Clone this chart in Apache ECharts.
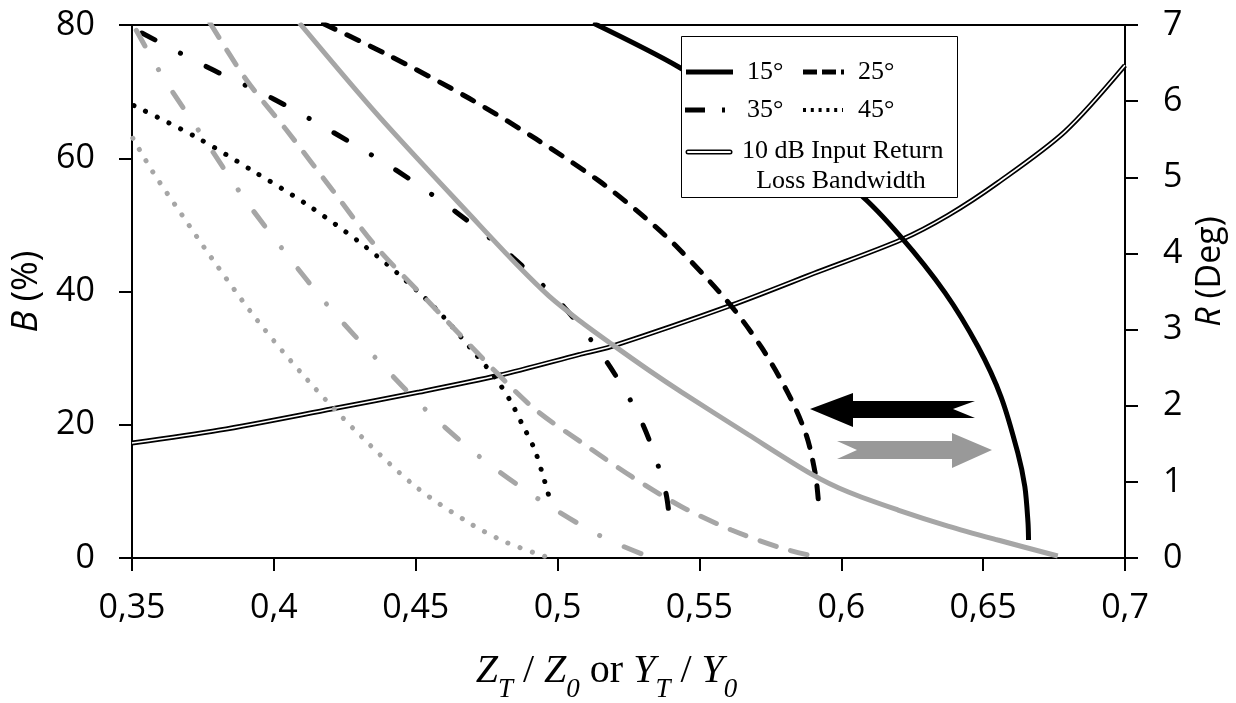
<!DOCTYPE html>
<html>
<head>
<meta charset="UTF-8">
<title>B and R versus ZT/Z0</title>
<script src="https://cdn.jsdelivr.net/npm/echarts@6/dist/echarts.min.js"></script>
<style>
  html, body { margin: 0; padding: 0; background: #fff; }
  #main { width: 1236px; height: 703px; }
</style>
</head>
<body>
<div id="main"></div>
<script>
// B (%) curves, black family and gray family; points are [ZT/Z0, B]
var b15 = [[0.5125, 80.3], [0.5427, 73.7], [0.5743, 65.0], [0.606, 54.8], [0.621, 48.2], [0.6366, 39.8], [0.6482, 31.7], [0.6563, 24.2], [0.6622, 15.8], [0.6647, 10.7], [0.6658, 5.4], [0.666, 2.7]];
var b25 = [[0.4175, 80.2], [0.4407, 75.4], [0.4688, 69.0], [0.4924, 62.9], [0.5146, 56.6], [0.5297, 51.5], [0.5416, 46.9], [0.5603, 38.3], [0.5719, 31.6], [0.5814, 24.6], [0.5877, 18.4], [0.5909, 12.5], [0.5919, 8.7]];
var b35 = [[0.3535, 78.8], [0.3774, 73.5], [0.3999, 68.9], [0.4221, 63.6], [0.4435, 58.1], [0.4643, 51.9], [0.484, 45.2], [0.5022, 37.7], [0.5174, 29.4], [0.53, 20.1], [0.5381, 9.9], [0.5399, 3.2]];
var b45 = [[0.3507, 67.9], [0.3725, 63.2], [0.3922, 58.2], [0.4115, 53.1], [0.4302, 47.4], [0.4442, 42.5], [0.4576, 37.2], [0.4699, 31.2], [0.4783, 26.9], [0.4836, 23.4], [0.4875, 20.1], [0.4917, 16.5], [0.4945, 12.9], [0.497, 9.2]];

var g15 = [[0.409, 80.3], [0.4372, 66.2], [0.4724, 50.0], [0.4864, 43.7], [0.497, 39.3], [0.5075, 35.7], [0.5191, 32.1], [0.5321, 28.2], [0.5437, 24.9], [0.5673, 18.5], [0.5895, 12.6], [0.6025, 9.9], [0.62, 7.2], [0.6376, 4.8], [0.6552, 2.7], [0.6763, 0.3]];
var g25 = [[0.3775, 80.3], [0.3904, 71.7], [0.4045, 64.2], [0.4207, 55.2], [0.4361, 46.7], [0.4558, 37.9], [0.4783, 27.9], [0.4924, 22.2], [0.5086, 17.3], [0.5262, 12.2], [0.5437, 7.7], [0.5613, 4.2], [0.5789, 1.5], [0.5909, 0.2]];
var g35 = [[0.3515, 79.2], [0.3609, 72.2], [0.375, 63.2], [0.389, 54.3], [0.4041, 45.8], [0.42, 37.4], [0.4368, 29.6], [0.4544, 21.9], [0.4734, 14.9], [0.4942, 8.6], [0.5156, 3.2], [0.5321, 0.2]];
var g45 = [[0.3503, 63.0], [0.3574, 57.9], [0.3676, 51.5], [0.3781, 45.0], [0.3943, 35.6], [0.4119, 26.7], [0.4309, 18.2], [0.4506, 10.5], [0.4699, 5.0], [0.4822, 2.3], [0.4959, 0.2]];

// R (Deg): 10 dB input return loss bandwidth, [ZT/Z0, R]
var rBw = [[0.35, 1.51], [0.3809, 1.68], [0.4207, 1.96], [0.4513, 2.18], [0.4794, 2.40], [0.5075, 2.67], [0.5191, 2.78], [0.5613, 3.32], [0.5919, 3.76], [0.6211, 4.18], [0.6376, 4.50], [0.6552, 4.93], [0.6788, 5.60], [0.7, 6.47]];

var angleLabels = ['15°', '25°', '35°', '45°'];
var bwLabel = ['10 dB Input Return', 'Loss Bandwidth'];

var black = '#000';
var gray = '#a6a6a6';

function curve(name, data, color, dash, cap, z) {
  return {
    name: name, type: 'line', data: data, symbol: 'none', smooth: 0.3,
    z: z, silent: true,
    lineStyle: { color: color, width: 5, type: dash, cap: cap }
  };
}

var chart = echarts.init(document.getElementById('main'));

var font = 'Open Sans';
var serif = 'Liberation Serif';
var legendFont = '26px "Liberation Serif"';

function legendText(text, x, y, align) {
  return {
    type: 'text', z: 61,
    style: { text: text, x: x, y: y, font: legendFont, fill: '#000',
      align: align || 'left', textAlign: align || 'left',
      verticalAlign: 'middle', textVerticalAlign: 'middle' }
  };
}

function legendLine(x1, x2, y, width, dash, stroke, cap) {
  return {
    type: 'line', z: stroke === '#fff' ? 62 : 61,
    shape: { x1: x1, y1: y, x2: x2, y2: y },
    style: { stroke: stroke || '#000', lineWidth: width, lineDash: dash || null, lineCap: cap || 'butt' }
  };
}

var option = {
  animation: false,
  grid: {
    left: 132, right: 111, top: 25, bottom: 145, outerBoundsMode: 'none',
    show: true, borderColor: '#000', borderWidth: 2
  },
  xAxis: {
    type: 'value', min: 0.35, max: 0.7, interval: 0.05,
    axisLine: { onZero: false, lineStyle: { color: '#000', width: 2 } },
    axisTick: { length: 13, lineStyle: { color: '#000', width: 2 } },
    splitLine: { show: false },
    axisLabel: {
      color: '#000', fontFamily: font, fontSize: 34, margin: 33,
      formatter: function (v) { return String(Math.round(v * 100) / 100).replace('.', ','); }
    },
    name: '{i|Z}{s|T}{n| / }{i|Z}{s|0}{n| or }{i|Y}{s|T}{n| / }{i|Y}{s|0}',
    nameLocation: 'middle', nameGap: 86,
    nameTextStyle: {
      padding: [0, 44, 0, 0],
      rich: {
        i: { fontFamily: serif, fontStyle: 'italic', fontSize: 40, color: '#000', verticalAlign: 'middle', lineHeight: 54 },
        s: { fontFamily: serif, fontStyle: 'italic', fontSize: 27, color: '#000', verticalAlign: 'top', lineHeight: 20, padding: [32, 0, 0, 0] },
        n: { fontFamily: serif, fontSize: 40, color: '#000', verticalAlign: 'middle', lineHeight: 54 }
      }
    }
  },
  yAxis: [{
    type: 'value', min: 0, max: 80, interval: 20, position: 'left',
    axisLine: { show: true, onZero: false, lineStyle: { color: '#000', width: 2 } },
    axisTick: { show: true, length: 13, lineStyle: { color: '#000', width: 2 } },
    splitLine: { show: false },
    axisLabel: { color: '#000', fontFamily: font, fontSize: 34, margin: 37 },
    name: '{i|B} (%)', nameLocation: 'middle', nameRotate: 90, nameGap: 66,
    nameTextStyle: {
      color: '#000', fontFamily: font, fontSize: 36,
      rich: { i: { fontFamily: font, fontStyle: 'italic', fontSize: 36, color: '#000' } }
    }
  }, {
    type: 'value', min: 0, max: 7, interval: 1, position: 'right',
    axisLine: { show: true, onZero: false, lineStyle: { color: '#000', width: 2 } },
    axisTick: { show: true, length: 13, lineStyle: { color: '#000', width: 2 } },
    splitLine: { show: false },
    axisLabel: { color: '#000', fontFamily: font, fontSize: 34, margin: 38 },
    name: '{i|R} (Deg)', nameLocation: 'middle', nameRotate: 90, nameGap: 48,
    nameTextStyle: {
      color: '#000', fontFamily: font, fontSize: 34, padding: [0, 0, 0, 40],
      rich: { i: { fontFamily: font, fontStyle: 'italic', fontSize: 34, color: '#000' } }
    }
  }],
  series: [
    { name: 'bw-outer', type: 'line', yAxisIndex: 1, data: rBw, symbol: 'none', smooth: 0.3, z: 1, silent: true,
      lineStyle: { color: '#000', width: 5 } },
    { name: 'bw-inner', type: 'line', yAxisIndex: 1, data: rBw, symbol: 'none', smooth: 0.3, z: 1, silent: true,
      lineStyle: { color: '#fff', width: 1.6 } },
    curve('15° B', b15, black, 'solid', 'butt', 2),
    curve('25° B', b25, black, [13, 13], 'round', 2),
    curve('35° B', b35, black, [15, 28.5, 0.1, 28.5], 'round', 2),
    curve('45° B', b45, black, [0.1, 12.9], 'round', 2),
    curve('15° G', g15, gray, 'solid', 'butt', 3),
    curve('25° G', g25, gray, [17, 15], 'round', 3),
    curve('35° G', g35, gray, [18, 27, 0.1, 27], 'round', 3),
    curve('45° G', g45, gray, [0.1, 12.9], 'round', 3)
  ],
  graphic: [
    // direction arrows
    { type: 'polygon', z: 50, shape: { points: [[810, 409], [853, 393], [853, 401], [975, 401], [953, 409], [975, 418], [853, 418], [853, 427]] },
      style: { fill: '#000' } },
    { type: 'polygon', z: 50, shape: { points: [[992, 450], [952, 433], [952, 441], [837, 441], [857, 450], [837, 459], [952, 459], [952, 468]] },
      style: { fill: '#999' } },
    // legend box
    { type: 'rect', z: 60, shape: { x: 681.5, y: 36.5, width: 276, height: 161 },
      style: { fill: '#fff', stroke: '#000', lineWidth: 1 } },
    legendLine(686, 733, 72, 5),
    legendLine(803, 844, 72, 5, [14, 5]),
    legendLine(685, 726, 110, 5, [20, 17, 3, 10]),
    legendLine(803, 843, 110, 4, [3, 4.8]),
    legendLine(688, 730, 152, 5, null, '#000', 'round'),
    legendLine(688, 730, 152, 2, null, '#fff', 'round'),
    legendText(angleLabels[0], 747, 72),
    legendText(angleLabels[1], 858, 72),
    legendText(angleLabels[2], 747, 110),
    legendText(angleLabels[3], 858, 110),
    legendText(bwLabel[0], 742, 151),
    legendText(bwLabel[1], 841, 181, 'center')
  ]
};

chart.setOption(option);
</script>
</body>
</html>
